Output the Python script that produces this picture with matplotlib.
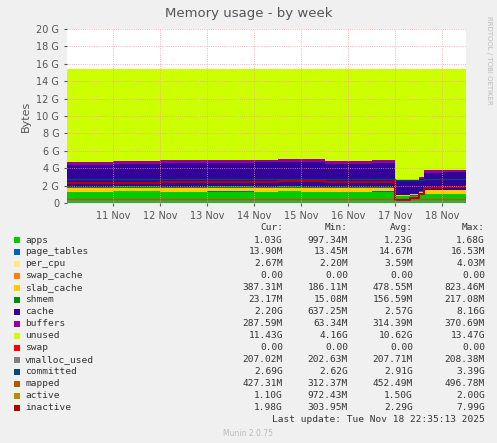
import numpy as np
import matplotlib
matplotlib.use("Agg")
import matplotlib.pyplot as plt

W, H = 497, 443

# time in days since 10 Nov 00:00
t = [0.0, 1.0, 2.0, 3.0, 4.0, 4.5, 5.0, 5.5, 6.0, 6.5, 6.98, 7.0, 7.3, 7.5, 7.6, 8.0, 8.5]
apps        = [1.30, 1.35, 1.28, 1.32, 1.30, 1.35, 1.30, 1.30, 1.30, 1.32, 1.30, 0.75, 0.85, 1.00, 1.05, 1.05, 1.05]
page_tables = [0.014] * 17
per_cpu     = [0.003] * 17
swap_cache  = [0.0] * 17
slab_cache  = [0.40, 0.40, 0.40, 0.40, 0.40, 0.40, 0.40, 0.40, 0.40, 0.40, 0.40, 0.19, 0.20, 0.30, 0.38, 0.39, 0.39]
shmem       = [0.15, 0.15, 0.15, 0.16, 0.16, 0.16, 0.16, 0.15, 0.15, 0.15, 0.15, 0.02, 0.02, 0.02, 0.02, 0.02, 0.02]
buffers     = [0.33, 0.33, 0.33, 0.33, 0.33, 0.33, 0.33, 0.33, 0.33, 0.33, 0.33, 0.06, 0.10, 0.20, 0.28, 0.29, 0.29]
top_total   = [4.75, 4.85, 4.95, 4.95, 5.00, 5.05, 5.10, 4.85, 4.85, 4.90, 4.90, 2.60, 2.60, 3.00, 3.75, 3.85, 3.90]
total_ram   = 15.4
committed   = [2.75, 2.75, 2.75, 2.75, 2.80, 2.80, 2.80, 2.80, 2.80, 2.80, 2.80, 2.70, 2.70, 2.70, 2.75, 2.75, 2.75]
mapped      = [0.43] * 17
inactive    = [2.35, 2.35, 2.40, 2.40, 2.45, 2.50, 2.55, 2.40, 2.40, 2.45, 2.50, 0.30, 0.60, 1.00, 1.70, 1.85, 1.98]

labels = ["apps", "page_tables", "per_cpu", "swap_cache", "slab_cache", "shmem", "cache",
          "buffers", "unused", "swap", "vmalloc_used", "committed", "mapped", "active", "inactive"]
colors = ["#00CC00", "#0066B3", "#FFE97F", "#FF8000", "#FFCC00", "#008F00", "#330099",
          "#990099", "#CCFF00", "#FF0000", "#808080", "#00487D", "#B35A00", "#B38F00", "#B30000"]
cur = ["1.03G", "13.90M", "2.67M", "0.00", "387.31M", "23.17M", "2.20G", "287.59M", "11.43G",
       "0.00", "207.02M", "2.69G", "427.31M", "1.10G", "1.98G"]
mins = ["997.34M", "13.45M", "2.20M", "0.00", "186.11M", "15.08M", "637.25M", "63.34M", "4.16G",
        "0.00", "202.63M", "2.62G", "312.37M", "972.43M", "303.95M"]
avgs = ["1.23G", "14.67M", "3.59M", "0.00", "478.55M", "156.59M", "2.57G", "314.39M", "10.62G",
        "0.00", "207.71M", "2.91G", "452.49M", "1.50G", "2.29G"]
maxs = ["1.68G", "16.53M", "4.03M", "0.00", "823.46M", "217.08M", "8.16G", "370.69M", "13.47G",
        "0.00", "208.38M", "3.39G", "496.78M", "2.00G", "7.99G"]

t = np.array(t)
base = np.array(apps) + np.array(page_tables) + np.array(per_cpu) + np.array(swap_cache) \
    + np.array(slab_cache) + np.array(shmem)
cache = np.array(top_total) - base - np.array(buffers)
unused = total_ram - np.array(top_total)
stack = [apps, page_tables, per_cpu, swap_cache, slab_cache, shmem, cache, buffers, unused]

fig = plt.figure(figsize=(W / 100, H / 100), dpi=100, facecolor="#F0F0F0")
ax = fig.add_axes([67 / W, 1 - 203 / H, (466 - 67) / W, (203 - 29) / H])
ax.set_facecolor("white")
ax.stackplot(t, *[np.array(s) for s in stack], colors=colors[:9], step="post", linewidth=0)
ax.step(t, committed, where="post", color=colors[11], lw=1)
ax.step(t, mapped, where="post", color=colors[12], lw=1)
ax.step(t, inactive, where="post", color=colors[14], lw=1.5)
ax.step(t, [0.207] * len(t), where="post", color=colors[10], lw=1)

ax.set_xlim(0.02, 8.5)
ax.set_ylim(0, 20)
ax.set_yticks(range(0, 21, 2))
ax.set_yticklabels(["0"] + [f"{v} G" for v in range(2, 21, 2)])
ax.set_xticks(range(1, 9))
ax.set_xticklabels([f"{d} Nov" for d in range(11, 19)])
ax.tick_params(labelsize=7, colors="#555555", length=2)
ax.grid(True, color="#FF9999", linestyle=":", linewidth=0.6)
ax.set_axisbelow(False)
for s in ax.spines.values():
    s.set_visible(False)
ax.set_ylabel("Bytes", fontsize=8, color="#555555")
fig.text(0.5, 1 - 14 / H, "Memory usage - by week", ha="center", va="center", fontsize=9.5, color="#555555")
fig.text(489 / W, 1 - 60 / H, "RRDTOOL / TOBI OETIKER", rotation=270, fontsize=5, color="#BBBBBB",
         ha="center", va="center")

def px(x, y):
    return x / W, 1 - y / H

mono = dict(family="DejaVu Sans Mono", fontsize=6.8, color="#333333", va="center")
for xr, head in [(283, "Cur:"), (348, "Min:"), (413, "Avg:"), (485, "Max:")]:
    fig.text(*px(xr, 227), head, ha="right", **mono)
for i, lab in enumerate(labels):
    y = 240 + i * 12.0
    fig.patches.append(plt.Rectangle(px(14, y + 3), 6 / W, 6 / H, transform=fig.transFigure,
                                     facecolor=colors[i], edgecolor="none"))
    fig.text(*px(25, y), lab, ha="left", **mono)
    fig.text(*px(283, y), cur[i], ha="right", **mono)
    fig.text(*px(348, y), mins[i], ha="right", **mono)
    fig.text(*px(413, y), avgs[i], ha="right", **mono)
    fig.text(*px(485, y), maxs[i], ha="right", **mono)
fig.text(*px(485, 420), "Last update: Tue Nov 18 22:35:13 2025", ha="right", **mono)
fig.text(*px(248, 433), "Munin 2.0.75", ha="center", va="center", fontsize=5.5, color="#BBBBBB")

fig.savefig("out.png", dpi=100, facecolor=fig.get_facecolor())
